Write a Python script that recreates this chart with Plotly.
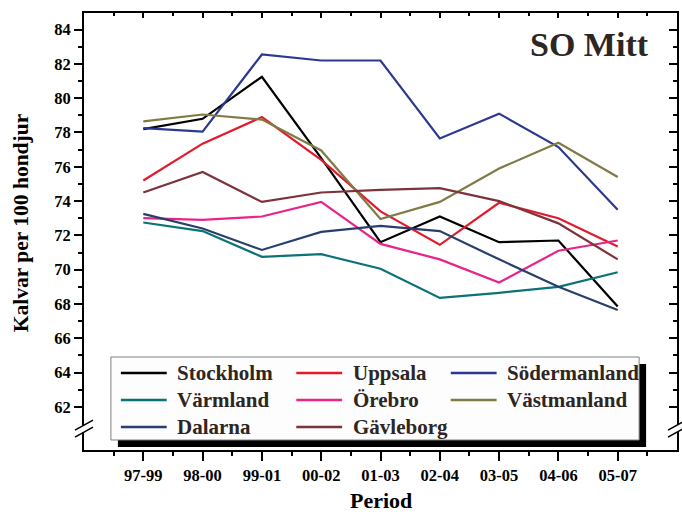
import plotly.graph_objects as go

# ---------------- data ----------------
periods = ["97-99", "98-00", "99-01", "00-02", "01-03", "02-04", "03-05", "04-06", "05-07"]

stockholm    = [78.2, 78.8, 81.25, 76.5, 71.6, 73.1, 71.6, 71.7, 67.85]
uppsala      = [75.2, 77.35, 78.9, 76.4, 73.4, 71.45, 73.9, 73.0, 71.35]
sodermanland = [78.25, 78.05, 82.55, 82.2, 82.2, 77.65, 79.1, 77.15, 73.5]
varmland     = [72.75, 72.25, 70.75, 70.9, 70.05, 68.35, 68.65, 69.0, 69.85]
orebro       = [73.0, 72.9, 73.1, 73.95, 71.5, 70.6, 69.25, 71.1, 71.7]
vastmanland  = [78.65, 79.05, 78.75, 76.95, 72.95, 73.95, 75.9, 77.4, 75.4]
dalarna      = [73.25, 72.4, 71.15, 72.2, 72.55, 72.25, 70.6, 69.0, 67.65]
gavleborg    = [74.5, 75.7, 73.95, 74.5, 74.65, 74.75, 74.0, 72.7, 70.6]

series_names = ["Stockholm", "Uppsala", "Södermanland", "Värmland", "Örebro",
                "Västmanland", "Dalarna", "Gävleborg"]
series_values = [stockholm, uppsala, sodermanland, varmland, orebro,
                 vastmanland, dalarna, gavleborg]
series_colors = ["#000000", "#e31a2d", "#2b3990", "#0b7278", "#e8238a",
                 "#807b45", "#27406b", "#7d3339"]

y_major = list(range(62, 85, 2))
y_minor = list(range(63, 84, 2))

# ---------------- layout constants ----------------
W, H = 682, 515
L, R, T, B = 84, 3, 13, 65
PW, PH = W - L - R, H - T - B
XR = [-1, 9]
YR = [59.48, 84.97]
BREAK_Y = 60.73
FONT = "Liberation Serif"
TXT = "#2e2622"

# legend box geometry (screen pixels)
LEG_BOX = (111, 357, 641, 440)        # x0, y0, x1, y1
LEG_SHADOW = 7
LEG_LINE_X = [121, 297, 452]
LEG_LINE_LEN = 46
LEG_TEXT_X = [175, 352, 506]
LEG_ROW_Y = [373, 400, 427]

x_idx = list(range(len(periods)))
x_minor = [i - 0.5 for i in range(len(periods) + 1)]


def px_x(p):
    return (p - L) / PW


def px_y(p):
    return (H - B - p) / PH


fig = go.Figure()
for name, vals, col in zip(series_names, series_values, series_colors):
    fig.add_trace(go.Scatter(x=x_idx, y=vals, mode="lines", name=name,
                             line=dict(color=col, width=2.2)))
# helper trace for the mirrored (top/right) tick axes
fig.add_trace(go.Scatter(x=[None], y=[None], xaxis="x2", yaxis="y2",
                         showlegend=False, hoverinfo="skip"))

tickfont = dict(family=FONT, size=16.5, color="black", weight="bold")

fig.update_layout(
    width=W, height=H,
    margin=dict(l=L, r=R, t=T, b=B),
    paper_bgcolor="white", plot_bgcolor="white",
    font=dict(family=FONT, color="black"),
    showlegend=False,
    xaxis=dict(range=XR, tickmode="array", tickvals=x_idx, ticktext=periods,
               ticks="outside", ticklen=9, tickwidth=1.5, tickcolor="black",
               showline=True, linecolor="black", linewidth=2, mirror=True,
               showgrid=False, zeroline=False, tickfont=tickfont,
               minor=dict(tickvals=x_minor, ticks="outside", ticklen=4,
                          tickwidth=1.5, tickcolor="black", showgrid=False)),
    yaxis=dict(range=YR, tickmode="array", tickvals=y_major,
               ticktext=[str(v) for v in y_major],
               ticks="outside", ticklen=8, tickwidth=1.5, tickcolor="black",
               showline=True, linecolor="black", linewidth=2, mirror=True,
               showgrid=False, zeroline=False, tickfont=tickfont,
               minor=dict(tickvals=y_minor, ticks="outside", ticklen=4,
                          tickwidth=1.5, tickcolor="black", showgrid=False)),
    xaxis2=dict(overlaying="x", side="top", range=XR, tickmode="array",
                tickvals=x_idx, ticks="inside", ticklen=5, tickwidth=1.5,
                tickcolor="black", showticklabels=False, showline=False,
                showgrid=False, zeroline=False,
                minor=dict(tickvals=x_minor, ticks="inside", ticklen=3,
                           tickwidth=1.5, tickcolor="black", showgrid=False)),
    yaxis2=dict(overlaying="y", side="right", range=YR, tickmode="array",
                tickvals=y_major, ticks="inside", ticklen=8, tickwidth=1.5,
                tickcolor="black", showticklabels=False, showline=False,
                showgrid=False, zeroline=False,
                minor=dict(tickvals=y_minor, ticks="inside", ticklen=4,
                           tickwidth=1.5, tickcolor="black", showgrid=False)),
)

# title and axis titles
fig.add_annotation(text="SO Mitt", xref="paper", yref="paper",
                   x=px_x(653), y=px_y(45), xanchor="right", yanchor="middle",
                   showarrow=False,
                   font=dict(family=FONT, size=34, color=TXT, weight="bold"))
fig.add_annotation(text="Kalvar per 100 hondjur", xref="paper", yref="paper",
                   x=px_x(21), y=px_y(223), xanchor="center", yanchor="middle",
                   textangle=-90, showarrow=False,
                   font=dict(family=FONT, size=21.5, color="black", weight="bold"))
fig.add_annotation(text="Period", xref="paper", yref="paper",
                   x=px_x(382), y=px_y(500), xanchor="center", yanchor="middle",
                   showarrow=False,
                   font=dict(family=FONT, size=22, color="black", weight="bold"))

# ---------------- legend (box with drop shadow) ----------------
bx0, by0, bx1, by1 = LEG_BOX
fig.add_shape(type="rect", xref="paper", yref="paper",
              x0=px_x(bx0 + LEG_SHADOW), x1=px_x(bx1 + LEG_SHADOW),
              y0=px_y(by1 + LEG_SHADOW), y1=px_y(by0 + LEG_SHADOW),
              fillcolor="black", line=dict(width=0), layer="above")
fig.add_shape(type="rect", xref="paper", yref="paper",
              x0=px_x(bx0), x1=px_x(bx1), y0=px_y(by1), y1=px_y(by0),
              fillcolor="#fdfdfd", line=dict(color="#7f7f7f", width=1),
              layer="above")
for i, (name, col) in enumerate(zip(series_names, series_colors)):
    r, c = divmod(i, 3)
    yy = px_y(LEG_ROW_Y[r])
    fig.add_shape(type="line", xref="paper", yref="paper",
                  x0=px_x(LEG_LINE_X[c]), x1=px_x(LEG_LINE_X[c] + LEG_LINE_LEN),
                  y0=yy, y1=yy, line=dict(color=col, width=2.5), layer="above")
    fig.add_annotation(text=name, xref="paper", yref="paper",
                       x=px_x(LEG_TEXT_X[c]), y=yy, xanchor="left",
                       yanchor="middle", showarrow=False,
                       font=dict(family=FONT, size=21, color=TXT, weight="bold"))

# ---------------- axis break marks on left and right axes ----------------
for xa in (0, 1):
    fig.add_shape(type="rect", xref="paper", yref="y", xanchor=xa, yanchor=BREAK_Y,
                  xsizemode="pixel", ysizemode="pixel",
                  x0=-3, x1=3, y0=-3.5, y1=3.5,
                  fillcolor="white", line=dict(width=0), layer="above")
    for dy in (-3.5, 3.5):
        fig.add_shape(type="line", xref="paper", yref="y", xanchor=xa, yanchor=BREAK_Y,
                      xsizemode="pixel", ysizemode="pixel",
                      x0=-9, x1=9, y0=dy - 5, y1=dy + 5,
                      line=dict(color="black", width=1.5), layer="above")

fig.write_html("out.html", config={"displayModeBar": False},
               post_script="document.body.style.margin='0px';")
